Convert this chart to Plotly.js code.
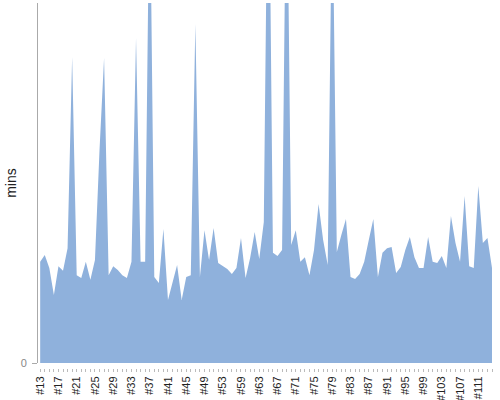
<!DOCTYPE html>
<html>
<head>
<meta charset="utf-8">
<script src="https://cdn.plot.ly/plotly-3.0.1.min.js"></script>
<style>html,body{margin:0;padding:0;background:#fff;}#chart{width:500px;height:400px;}</style>
</head>
<body>
<div id="chart"></div>
<script>
// Build labels (categories)
const builds = [
  "#13","#14","#15","#16","#17","#18","#19","#20","#21","#22","#23","#24","#25","#26","#27","#28",
  "#29","#30","#31","#32","#33","#34","#35","#36","#37","#38","#39","#40","#41","#42","#43","#44",
  "#45","#46","#47","#48","#49","#50","#51","#52","#53","#55","#56","#58","#59","#60","#61","#62",
  "#63","#64","#65","#66","#67","#68","#69","#70","#71","#72","#73","#74","#75","#76","#77","#78",
  "#79","#80","#81","#82","#83","#84","#85","#86","#87","#88","#89","#90","#91","#92","#93","#94",
  "#95","#96","#97","#98","#99","#100","#101","#102","#103","#104","#105","#106","#107","#108","#109","#110",
  "#111","#112","#113","#114"
];
// Duration in minutes per build
const mins = [
  28.1,30.0,26.4,18.9,26.9,25.6,31.9,85.0,24.4,23.6,28.1,23.1,28.6,59.2,84.7,24.4,
  26.9,25.8,24.4,23.6,28.1,90.3,28.1,28.1,140,23.9,22.2,37.2,17.5,22.5,27.2,17.5,
  23.9,24.4,94.2,23.9,36.9,28.6,37.5,27.8,26.9,26.1,24.7,26.4,34.7,23.6,29.2,36.4,
  28.9,39.2,160,30.6,29.7,31.4,150,32.8,36.9,28.1,29.4,24.4,31.4,44.2,34.2,27.2,
  135,30.8,35.6,40.0,23.9,23.3,24.7,28.1,34.2,40.0,23.9,30.6,31.9,32.2,25.0,26.7,
  31.4,35.0,29.4,26.4,26.4,35.0,28.1,27.8,29.7,26.4,40.8,33.3,28.1,46.4,26.9,26.4,
  49.2,33.3,34.7,26.4
];
const labelEvery = 4;
const tickText = builds.map((b, i) => (i % labelEvery === 0 ? b : ""));

const trace = {
  type: "scatter",
  mode: "lines",
  x: builds,
  y: mins,
  fill: "tozeroy",
  fillcolor: "#8fb1dc",
  line: {width: 0, color: "#8fb1dc"},
  hoverinfo: "x+y"
};

const layout = {
  width: 500,
  height: 400,
  margin: {l: 38, r: 8, t: 3, b: 32},
  paper_bgcolor: "#ffffff",
  plot_bgcolor: "#ffffff",
  showlegend: false,
  font: {family: "Liberation Sans, Arial, sans-serif", size: 11, color: "#222"},
  xaxis: {
    type: "category",
    range: [-0.48, 99],
    anchor: "free",
    position: 0,
    tickmode: "array",
    tickvals: builds,
    ticktext: tickText,
    tickangle: -90,
    ticks: "outside",
    ticklen: 3,
    tickwidth: 1,
    tickcolor: "#bbbbbb",
    tickfont: {size: 11, color: "#222"},
    showline: false,
    showgrid: false,
    zeroline: false,
    automargin: false
  },
  yaxis: {
    domain: [0.0137, 1],
    range: [0, 100],
    tickmode: "array",
    tickvals: [0],
    ticktext: ["0"],
    ticks: "outside",
    ticklen: 5,
    tickcolor: "#aaaaaa",
    ticklabelstandoff: 3,
    tickfont: {size: 11, color: "#888"},
    showline: true,
    linecolor: "#aaaaaa",
    linewidth: 1,
    showgrid: false,
    zeroline: false,
    automargin: false,
    title: {text: "mins", font: {size: 14, color: "#222"}, standoff: 0}
  }
};

Plotly.newPlot("chart", [trace], layout, {staticPlot: true, displayModeBar: false});
</script>
</body>
</html>
